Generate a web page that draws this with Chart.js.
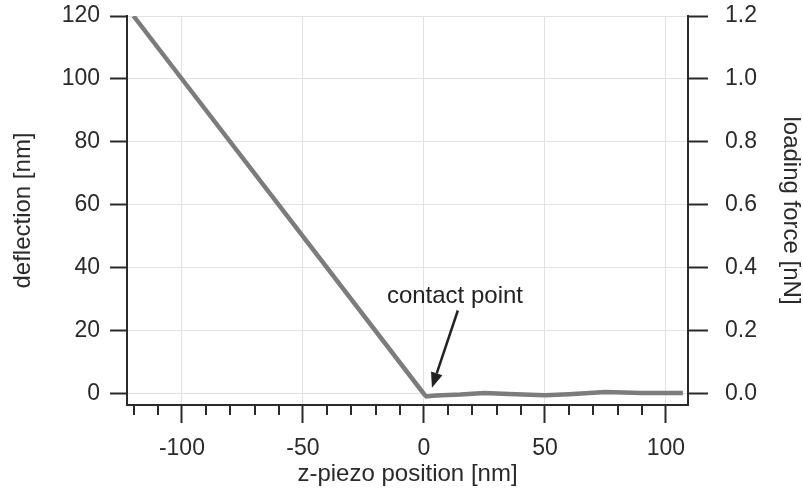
<!DOCTYPE html>
<html>
<head>
<meta charset="utf-8">
<script src="https://cdn.jsdelivr.net/npm/chart.js@4.4.1/dist/chart.umd.min.js"></script>
<style>
  html, body { margin: 0; padding: 0; background: #fff; }
  #box { width: 803px; height: 488px; }
</style>
</head>
<body>
<div id="box"><canvas id="forceChart"></canvas></div>
<script>
// z-piezo position [nm] and deflection [nm]
const zPositions = [-120, -100, -50, 0, 1, 5, 15, 25, 35, 50, 60, 75, 90, 107];
const deflections = [120, 100, 50, 0, -0.8, -0.5, -0.2, 0.3, 0, -0.4, -0.1, 0.6, 0.3, 0.3];

const xTicks = [-100, -50, 0, 50, 100];
const xMinorTicks = [-120, -110, -90, -80, -70, -60, -40, -30, -20, -10, 10, 20, 30, 40, 60, 70, 80, 90, 110];
const yTicks = [0, 20, 40, 60, 80, 100, 120];
const forceTicks = [0, 0.2, 0.4, 0.6, 0.8, 1.0, 1.2];

// callout: text centre, arrow tail, arrow tip (data units)
const calloutText = 'contact point';
const calloutAt = [12.8, 31];
const arrowFrom = [14, 26.5];
const arrowTo = [3.3, 2];

const ink = '#2a2a2a';
const gridGrey = '#e2e2e2';
const font = 'Liberation Sans, Arial, Helvetica, sans-serif';

const minorTicks = {
    id: 'minorTicks',
    afterDraw(chart) {
        const ctx = chart.ctx;
        const x = chart.scales.x;
        ctx.save();
        ctx.strokeStyle = ink;
        ctx.lineWidth = 2;
        xMinorTicks.forEach(v => {
            const px = Math.round(x.getPixelForValue(v));
            if (px < x.left || px > x.right) return;
            ctx.beginPath();
            ctx.moveTo(px, x.top);
            ctx.lineTo(px, x.top + 10);
            ctx.stroke();
        });
        ctx.restore();
    }
};

const callout = {
    id: 'callout',
    afterDatasetsDraw(chart) {
        const ctx = chart.ctx;
        const x = chart.scales.x, y = chart.scales.y;
        ctx.save();
        ctx.fillStyle = '#222';
        ctx.font = '24px ' + font;
        ctx.textAlign = 'center';
        ctx.textBaseline = 'middle';
        ctx.fillText(calloutText, x.getPixelForValue(calloutAt[0]), y.getPixelForValue(calloutAt[1]));

        const x1 = x.getPixelForValue(arrowFrom[0]), y1 = y.getPixelForValue(arrowFrom[1]);
        const x2 = x.getPixelForValue(arrowTo[0]), y2 = y.getPixelForValue(arrowTo[1]);
        const a = Math.atan2(y2 - y1, x2 - x1);
        const head = 15, half = 6;
        const bx = x2 - head * Math.cos(a), by = y2 - head * Math.sin(a);
        ctx.strokeStyle = '#222';
        ctx.lineWidth = 2.5;
        ctx.beginPath();
        ctx.moveTo(x1, y1);
        ctx.lineTo(bx, by);
        ctx.stroke();
        ctx.beginPath();
        ctx.moveTo(x2, y2);
        ctx.lineTo(bx + half * Math.sin(a), by - half * Math.cos(a));
        ctx.lineTo(bx - half * Math.sin(a), by + half * Math.cos(a));
        ctx.closePath();
        ctx.fill();
        ctx.restore();
    }
};

const points = zPositions.map((z, i) => ({ x: z, y: deflections[i] }));

new Chart(document.getElementById('forceChart'), {
    type: 'line',
    data: {
        datasets: [{
            data: points,
            borderColor: '#7c7c7c',
            borderWidth: 4.5,
            pointRadius: 0,
            tension: 0,
            clip: 0
        }, {
            data: points,
            borderColor: '#b4b4b4',
            borderWidth: 1.5,
            pointRadius: 0,
            tension: 0,
            clip: 0
        }]
    },
    options: {
        responsive: true,
        maintainAspectRatio: false,
        animation: false,
        layout: { padding: { top: 16 } },
        plugins: {
            legend: { display: false },
            tooltip: { enabled: false }
        },
        scales: {
            x: {
                type: 'linear',
                min: -122.7,
                max: 109.1,
                afterBuildTicks: s => { s.ticks = xTicks.map(v => ({ value: v })); },
                afterFit: s => { s.height = 83; },
                grid: { color: gridGrey, tickColor: ink, tickLength: 18, tickWidth: 2 },
                border: { color: ink, width: 2 },
                ticks: { color: ink, font: { family: font, size: 23 }, padding: 12, maxRotation: 0 },
                title: {
                    display: true,
                    text: 'z-piezo position [nm]',
                    color: ink,
                    font: { family: font, size: 24, lineHeight: 1 },
                    padding: { top: 0, bottom: 2 }
                }
            },
            y: {
                position: 'left',
                min: -3.5,
                max: 120,
                afterBuildTicks: s => { s.ticks = yTicks.map(v => ({ value: v })); },
                afterFit: s => { s.width = 127; s.paddingTop = 0; s.paddingBottom = 0; },
                grid: { color: gridGrey, tickColor: ink, tickLength: 17, tickWidth: 2 },
                border: { color: ink, width: 2 },
                ticks: { color: ink, font: { family: font, size: 23 }, padding: 10 },
                title: {
                    display: true,
                    text: 'deflection [nm]',
                    color: ink,
                    font: { family: font, size: 24, lineHeight: 1 },
                    padding: { top: 11, bottom: 0 }
                }
            },
            y2: {
                position: 'right',
                min: -0.035,
                max: 1.2,
                afterBuildTicks: s => { s.ticks = forceTicks.map(v => ({ value: v })); },
                afterFit: s => { s.width = 115; s.paddingTop = 0; s.paddingBottom = 0; },
                grid: { drawOnChartArea: false, tickColor: ink, tickLength: 20, tickWidth: 2 },
                border: { color: ink, width: 2 },
                ticks: {
                    color: ink,
                    font: { family: font, size: 23 },
                    padding: 17,
                    callback: v => v.toFixed(1)
                },
                title: {
                    display: true,
                    text: 'loading force [nN]',
                    color: ink,
                    font: { family: font, size: 24, lineHeight: 1 },
                    padding: { top: 0, bottom: 0 }
                }
            }
        }
    },
    plugins: [minorTicks, callout]
});
</script>
</body>
</html>
